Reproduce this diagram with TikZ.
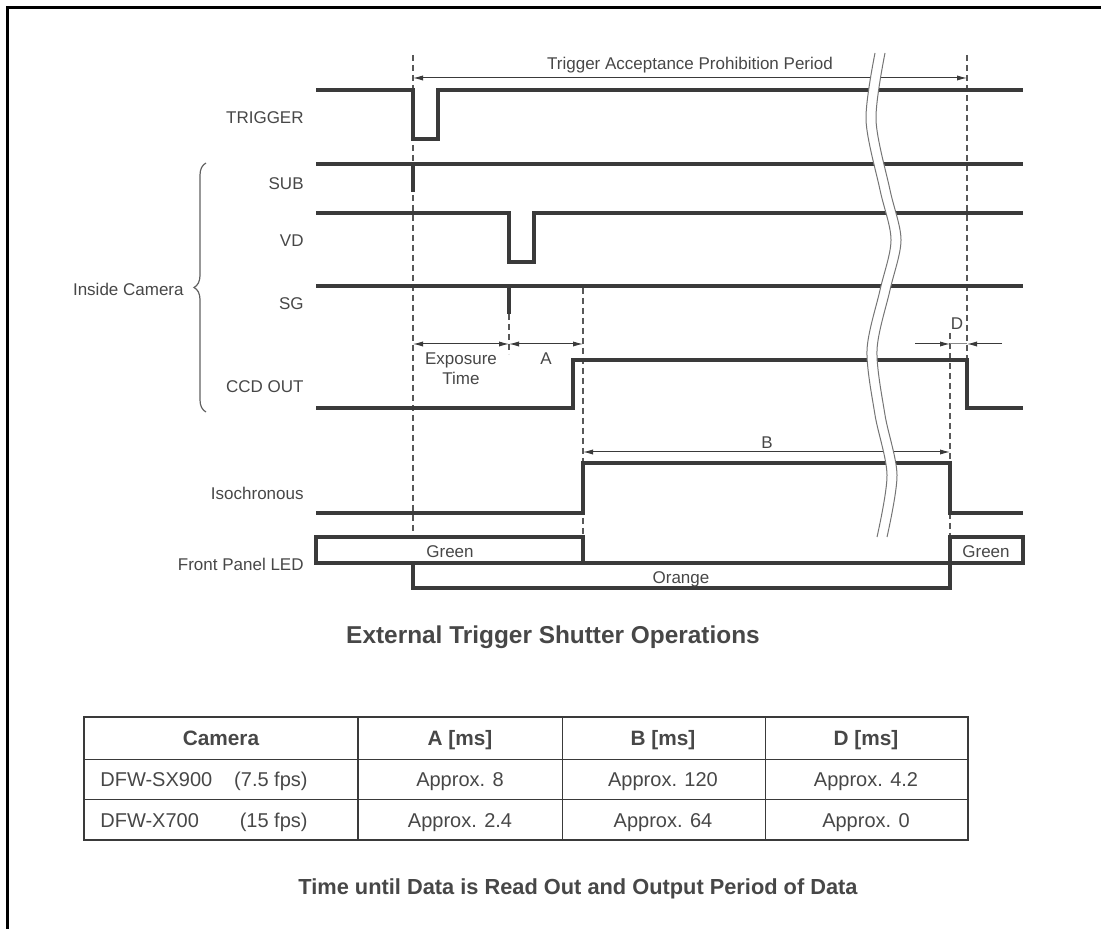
\documentclass[tikz,border=0pt]{standalone}
\usepackage{fontspec}
\setmainfont{Liberation Sans}
\usetikzlibrary{arrows.meta,decorations.pathreplacing}
\definecolor{ink}{HTML}{3A3A3A}
\definecolor{txt}{HTML}{474747}
\tikzset{
  sig/.style={draw=ink,line width=1.75pt,line join=miter},
  guide/.style={draw=ink!85,line width=0.7pt,dash pattern=on 3pt off 2pt},
  dim/.style={draw=ink,line width=0.5pt,{Latex[length=5pt,width=2.6pt]}-{Latex[length=5pt,width=2.6pt]}},
  lbl/.style={text=txt,font=\fontsize{8.5}{10}\selectfont,inner sep=0pt,text height=0.72em,text depth=0pt},
  cell/.style={text=txt,font=\fontsize{10}{12}\selectfont,inner sep=0pt,text height=0.72em,text depth=0pt},
  head/.style={text=txt,font=\fontsize{10.4}{12}\selectfont\bfseries,inner sep=0pt,text height=0.72em,text depth=0pt},
  title/.style={text=txt,font=\fontsize{12.2}{14}\selectfont\bfseries,inner sep=0pt,text height=0.72em,text depth=0pt}
}
\begin{document}
\begin{tikzpicture}[x=0.5pt,y=-0.5pt,line cap=butt]
\useasboundingbox (0,0) rectangle (1101,929);
% frame
\draw[black,line width=1.5pt] (7,929)--(7,8)--(1101,8);
% signal names
\node[lbl,anchor=east] (trig) at (304,116) {TRIGGER};
\node[lbl,anchor=east] (sub) at (304,182) {SUB};
\node[lbl,anchor=east] (vd) at (304,239) {VD};
\node[lbl,anchor=east] (sg) at (304,302) {SG};
\node[lbl,anchor=east] (ccd) at (304,385) {CCD OUT};
\node[lbl,anchor=east] (iso) at (304,492) {Isochronous};
\node[lbl,anchor=east] (led) at (304,563) {Front Panel LED};
\node[lbl,anchor=east] (inside) at (184,288) {Inside Camera};
\draw[ink!80,line width=0.6pt,decorate,decoration={brace,amplitude=6pt}] (206,412)--(206,163);
% guide lines
\draw[guide] (413,55)--(413,537);
\draw[guide] (967,55)--(967,360);
\draw[guide] (950,333)--(950,537);
\draw[guide] (509,314)--(509,354);
\draw[guide] (583,288)--(583,537);
% signals
\draw[sig] (316,90)--(413,90)--(413,139)--(438,139)--(438,90)--(1023,90);
\draw[sig] (316,164)--(1023,164) (413,164)--(413,192);
\draw[sig] (316,213)--(509,213)--(509,262)--(534,262)--(534,213)--(1023,213);
\draw[sig] (316,286)--(1023,286) (509,286)--(509,314);
\draw[sig] (316,408)--(573,408)--(573,360)--(967,360)--(967,408)--(1023,408);
\draw[sig] (316,513)--(583,513)--(583,463)--(950,463)--(950,513)--(1023,513);
% front panel LED
\draw[sig] (316,537) rectangle (583,563);
\draw[sig] (413,563) rectangle (950,588);
\draw[sig] (950,537) rectangle (1023,563);
\node[lbl] (green1) at (450,550) {Green};
\node[lbl] (orange) at (681,576) {Orange};
\node[lbl] (green2) at (986,550) {Green};
% periods
\draw[dim] (413,78)--(967,78);
\node[lbl] (prohib) at (690,62) {Trigger Acceptance Prohibition Period};
\draw[dim] (413,344)--(509,344);
\draw[dim] (509,344)--(583,344);
\node[lbl,align=center,text height=,text depth=] (expo) at (461,369) {Exposure\\Time};
\node[lbl] (perA) at (546,357) {A};
\draw[dim] (583,452)--(950,452);
\node[lbl] (perB) at (767,441) {B};
\draw[ink,line width=0.5pt,-{Latex[length=5pt,width=2.6pt]}] (915,344)--(950,344);
\draw[ink!60,line width=0.5pt] (950,344)--(967,344);
\draw[ink,line width=0.5pt,-{Latex[length=5pt,width=2.6pt]}] (1002,344)--(967,344);
\node[lbl] (perD) at (957,322) {D};
% time break
\fill[white] plot[smooth] coordinates {(875,53) (866,120) (880,190) (891,240) (880,290) (867,350) (875,415) (887,475) (877,537)}
  -- plot[smooth] coordinates {(887,537) (897,475) (885,415) (877,350) (890,290) (901,240) (890,190) (876,120) (885,53)} -- cycle;
\draw[ink!70,line width=0.5pt] plot[smooth] coordinates {(875,53) (866,120) (880,190) (891,240) (880,290) (867,350) (875,415) (887,475) (877,537)};
\draw[ink!70,line width=0.5pt] plot[smooth] coordinates {(885,53) (876,120) (890,190) (901,240) (890,290) (877,350) (885,415) (897,475) (887,537)};
\node[title] (cap1) at (553,636) {External Trigger Shutter Operations};
% table
\draw[ink,line width=0.5pt] (84,759)--(968,759) (84,799)--(968,799) (562,717)--(562,840) (765,717)--(765,840);
\draw[ink,line width=1pt] (358,717)--(358,840);
\draw[ink,line width=1.2pt] (84,717) rectangle (968,840);
\node[head] (hcam) at (221,738) {Camera};
\node[head] (ha) at (460,738) {A [ms]};
\node[head] (hb) at (663,738) {B [ms]};
\node[head] (hd) at (866,738) {D [ms]};
\node[cell,anchor=west] (cam1) at (100,779) {DFW-SX900};
\node[cell,anchor=east] (fps1) at (308,779) {(7.5 fps)};
\node[cell] (a1) at (460,779) {Approx. 8};
\node[cell] (b1) at (663,779) {Approx. 120};
\node[cell] (d1) at (866,779) {Approx. 4.2};
\node[cell,anchor=west] (cam2) at (100,820) {DFW-X700};
\node[cell,anchor=east] (fps2) at (308,820) {(15 fps)};
\node[cell] (a2) at (460,820) {Approx. 2.4};
\node[cell] (b2) at (663,820) {Approx. 64};
\node[cell] (d2) at (866,820) {Approx. 0};
\node[title,font=\fontsize{10.9}{13}\selectfont\bfseries] (cap2) at (578,887) {Time until Data is Read Out and Output Period of Data};
\end{tikzpicture}
\end{document}
